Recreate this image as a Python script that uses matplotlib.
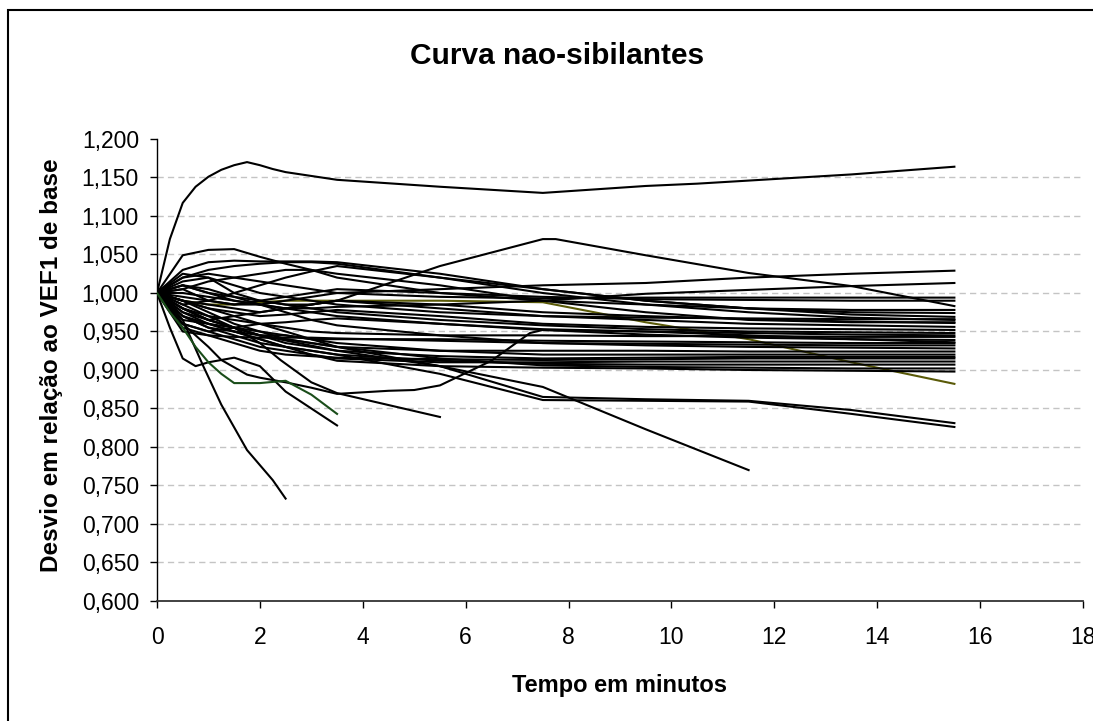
import matplotlib
matplotlib.use("Agg")
import matplotlib.pyplot as plt
from matplotlib.patches import Rectangle
from matplotlib.ticker import FuncFormatter, MultipleLocator

# shared measurement times (minutes) for most patients
t_common = [0, 0.5, 1, 1.5, 2, 2.5, 3, 3.5, 5.5, 7.5, 9.5, 11.5, 13.5, 15.5]

# outlier at the top
t_top = [0, 0.25, 0.5, 0.75, 1, 1.25, 1.5, 1.75, 2, 2.25, 2.5, 3.5, 5.5,
         7.5, 9.5, 10.5, 11.5, 12.5, 13.5, 14.5, 15.5]
v_top = [1.0, 1.07, 1.117, 1.138, 1.151, 1.16, 1.166, 1.170, 1.166, 1.161,
         1.157, 1.147, 1.138, 1.130, 1.139, 1.142, 1.146, 1.150, 1.154,
         1.159, 1.164]

# line peaking around 7.5 min
t_peak = [0, 0.5, 1, 2, 3, 3.5, 5.5, 7.5, 7.75, 9.5, 11.5, 13.5, 15.5]
v_peak = [1.0, 0.99, 0.985, 0.975, 0.985, 0.99, 1.035, 1.07, 1.07, 1.049,
          1.026, 1.009, 0.983]

v_rise_a = [1.0, 0.995, 0.99, 0.985, 0.985, 0.99, 0.995, 1.0, 1.005, 1.01,
            1.013, 1.02, 1.025, 1.029]
v_rise_b = [1.0, 1.01, 1.0, 0.99, 0.985, 0.98, 0.98, 0.982, 0.985, 0.99,
            0.999, 1.004, 1.009, 1.013]
v_olive = [1.0, 0.99, 0.985, 0.985, 0.988, 0.99, 0.99, 0.99, 0.99, 0.988,
           0.962, 0.94, 0.91, 0.882]
v_low_a = [1.0, 0.98, 0.965, 0.955, 0.945, 0.94, 0.935, 0.93, 0.905, 0.865,
           0.862, 0.86, 0.848, 0.831]
v_low_b = [1.0, 0.97, 0.955, 0.945, 0.935, 0.93, 0.925, 0.92, 0.895, 0.861,
           0.86, 0.859, 0.843, 0.826]

# short / dropping series
t_green = [0, 0.25, 0.5, 0.75, 1, 1.25, 1.5, 2, 2.5, 3, 3.5]
v_green = [1.0, 0.975, 0.955, 0.93, 0.91, 0.895, 0.883, 0.883, 0.886, 0.868,
           0.843]
t_steep = [0, 0.5, 0.9, 1.25, 1.75, 2.25, 2.5]
v_steep = [1.0, 0.965, 0.905, 0.855, 0.796, 0.757, 0.733]
t_dip = [0, 0.25, 0.5, 0.75, 1, 1.5, 2, 2.5, 3, 3.5]
v_dip = [1.0, 0.955, 0.915, 0.905, 0.91, 0.916, 0.905, 0.872, 0.85, 0.828]
t_u = [0, 0.5, 1, 1.25, 1.75, 2, 2.5, 3, 3.5, 4.5, 5, 5.5, 6.5, 7.25, 7.5,
       9.5, 11.5, 13.5, 15.5]
v_u = [1.0, 0.96, 0.93, 0.913, 0.894, 0.89, 0.884, 0.877, 0.869, 0.873,
       0.874, 0.88, 0.912, 0.948, 0.952, 0.95, 0.945, 0.94, 0.936]
t_b = [0, 0.5, 1, 1.5, 2, 2.4, 3, 3.5, 5.5]
v_b = [1.0, 0.985, 0.97, 0.955, 0.935, 0.913, 0.884, 0.87, 0.839]
t_c = [0, 0.5, 1, 2, 3.5, 5.5, 7.5, 9.5, 11.5]
v_c = [1.0, 0.98, 0.965, 0.945, 0.925, 0.905, 0.878, 0.823, 0.77]

# main bundle, sampled at t_common
p01 = [1.0, 1.02, 1.025, 1.02, 1.015, 1.01, 1.005, 1.0, 0.995, 0.993, 0.994, 0.994, 0.994, 0.994]
p02 = [1.0, 1.005, 0.99, 0.985, 0.99, 0.995, 1.0, 1.005, 1.0, 0.995, 0.992, 0.991, 0.99, 0.99]
p03 = [1.0, 1.049, 1.056, 1.057, 1.047, 1.038, 1.03, 1.02, 1.0, 0.99, 0.985, 0.98, 0.978, 0.978]
p04 = [1.0, 1.03, 1.04, 1.042, 1.041, 1.041, 1.041, 1.04, 1.025, 1.005, 0.99, 0.98, 0.975, 0.974]
p05 = [1.0, 1.02, 1.03, 1.035, 1.038, 1.04, 1.04, 1.038, 1.02, 1.005, 0.99, 0.98, 0.972, 0.969]
p06 = [1.0, 0.985, 0.99, 1.0, 1.01, 1.02, 1.028, 1.035, 1.02, 1.0, 0.985, 0.975, 0.968, 0.965]
p07 = [1.0, 1.015, 1.02, 1.0, 0.99, 0.985, 0.985, 0.99, 0.985, 0.975, 0.97, 0.966, 0.963, 0.961]
p08 = [1.0, 0.975, 0.965, 0.97, 0.975, 0.98, 0.985, 0.99, 0.98, 0.97, 0.965, 0.96, 0.958, 0.956]
p09 = [1.0, 0.99, 0.98, 0.975, 0.97, 0.972, 0.975, 0.978, 0.97, 0.96, 0.956, 0.954, 0.953, 0.952]
p10 = [1.0, 1.01, 1.0, 0.995, 0.99, 0.985, 0.98, 0.975, 0.965, 0.958, 0.953, 0.95, 0.949, 0.948]
p11 = [1.0, 0.96, 0.95, 0.955, 0.96, 0.962, 0.965, 0.967, 0.96, 0.953, 0.95, 0.948, 0.946, 0.945]
p12 = [1.0, 0.98, 0.97, 0.965, 0.96, 0.955, 0.95, 0.948, 0.945, 0.945, 0.944, 0.944, 0.943, 0.943]
p13 = [1.0, 1.0, 0.995, 0.99, 0.985, 0.98, 0.975, 0.97, 0.96, 0.952, 0.946, 0.942, 0.94, 0.939]
p14 = [1.0, 0.97, 0.955, 0.95, 0.945, 0.945, 0.94, 0.94, 0.94, 0.938, 0.937, 0.936, 0.935, 0.935]
p15 = [1.0, 0.95, 0.945, 0.943, 0.942, 0.942, 0.942, 0.941, 0.938, 0.935, 0.934, 0.933, 0.932, 0.932]
p16 = [1.0, 1.01, 1.005, 0.995, 0.985, 0.975, 0.965, 0.958, 0.945, 0.935, 0.932, 0.93, 0.929, 0.928]
p17 = [1.0, 0.99, 0.975, 0.96, 0.95, 0.94, 0.935, 0.93, 0.925, 0.925, 0.925, 0.924, 0.924, 0.924]
p18 = [1.0, 0.965, 0.96, 0.955, 0.95, 0.945, 0.94, 0.935, 0.925, 0.92, 0.92, 0.92, 0.92, 0.92]
p19 = [1.0, 0.98, 0.965, 0.955, 0.945, 0.935, 0.93, 0.925, 0.918, 0.915, 0.916, 0.917, 0.917, 0.917]
p20 = [1.0, 0.955, 0.945, 0.935, 0.925, 0.92, 0.918, 0.916, 0.914, 0.913, 0.914, 0.915, 0.915, 0.915]
p21 = [1.0, 0.96, 0.95, 0.94, 0.93, 0.925, 0.92, 0.915, 0.91, 0.91, 0.911, 0.911, 0.911, 0.911]
p22 = [1.0, 0.97, 0.96, 0.95, 0.94, 0.93, 0.925, 0.92, 0.912, 0.908, 0.907, 0.907, 0.907, 0.907]
p23 = [1.0, 0.99, 0.98, 0.97, 0.96, 0.95, 0.94, 0.93, 0.915, 0.906, 0.904, 0.903, 0.902, 0.902]
p24 = [1.0, 0.975, 0.96, 0.95, 0.94, 0.93, 0.92, 0.912, 0.905, 0.903, 0.902, 0.9, 0.899, 0.898]
p25 = [1.0, 1.025, 1.02, 1.01, 1.0, 0.995, 0.99, 0.985, 0.975, 0.97, 0.968, 0.967, 0.966, 0.966]
p26 = [1.0, 1.005, 1.015, 1.02, 1.025, 1.03, 1.03, 1.025, 1.01, 0.99, 0.975, 0.965, 0.962, 0.962]

bundle = [p01, p02, p03, p04, p05, p06, p07, p08, p09, p10, p11, p12, p13,
          p14, p15, p16, p17, p18, p19, p20, p21, p22, p23, p24, p25, p26,
          v_rise_a, v_rise_b, v_low_a, v_low_b]
others = [(t_top, v_top), (t_peak, v_peak), (t_steep, v_steep),
          (t_dip, v_dip), (t_u, v_u), (t_b, v_b), (t_c, v_c)]

plt.rcParams["font.family"] = ["Liberation Sans", "DejaVu Sans"]

fig = plt.figure(figsize=(10.93, 7.21), dpi=100)
ax = fig.add_axes([157 / 1093, 1 - 601 / 721, 926 / 1093, 462 / 721])

lw = 1.5
ax.plot(t_common, v_olive, color="#5a5a08", lw=lw, zorder=2)
for vals in bundle:
    ax.plot(t_common, vals, color="black", lw=lw, zorder=3)
for tt, vals in others:
    ax.plot(tt, vals, color="black", lw=lw, zorder=3)
ax.plot(t_green, v_green, color="#1a4d1a", lw=lw, zorder=4)

ax.set_xlim(0, 18)
ax.set_ylim(0.6, 1.2)
ax.xaxis.set_major_locator(MultipleLocator(2))
ax.yaxis.set_major_locator(MultipleLocator(0.05))
ax.yaxis.set_major_formatter(FuncFormatter(lambda v, _: f"{v:.3f}".replace(".", ",")))

for y in [0.65 + 0.05 * i for i in range(11)]:
    ax.axhline(y, color="#c4c4c4", lw=1.0, ls=(0, (4.5, 3)), zorder=1)

for side in ("top", "right"):
    ax.spines[side].set_visible(False)
ax.spines["left"].set_linewidth(1.0)
ax.spines["bottom"].set_linewidth(1.3)
ax.spines["bottom"].set_color("#333333")
ax.tick_params(axis="both", direction="out", length=5, width=1.0, labelsize=16.5)
ax.tick_params(axis="x", pad=13)
ax.tick_params(axis="y", pad=8)

ax.set_xlabel("Tempo em minutos", fontsize=17, fontweight="bold", labelpad=18)
ax.set_ylabel("Desvio em relação ao VEF1 de base", fontsize=17.5, fontweight="bold")
ax.yaxis.set_label_coords(-0.102, 0.51)

fig.text(557 / 1093, 1 - 56 / 721, "Curva nao-sibilantes", fontsize=21.5,
         fontweight="bold", ha="center", va="center")

fig.patches.append(Rectangle((8 / 1093, -0.1), 1.1, 1.1 - 10 / 721,
                             transform=fig.transFigure, fill=False,
                             edgecolor="black", lw=1.5))

fig.savefig("out.png", dpi=100)
